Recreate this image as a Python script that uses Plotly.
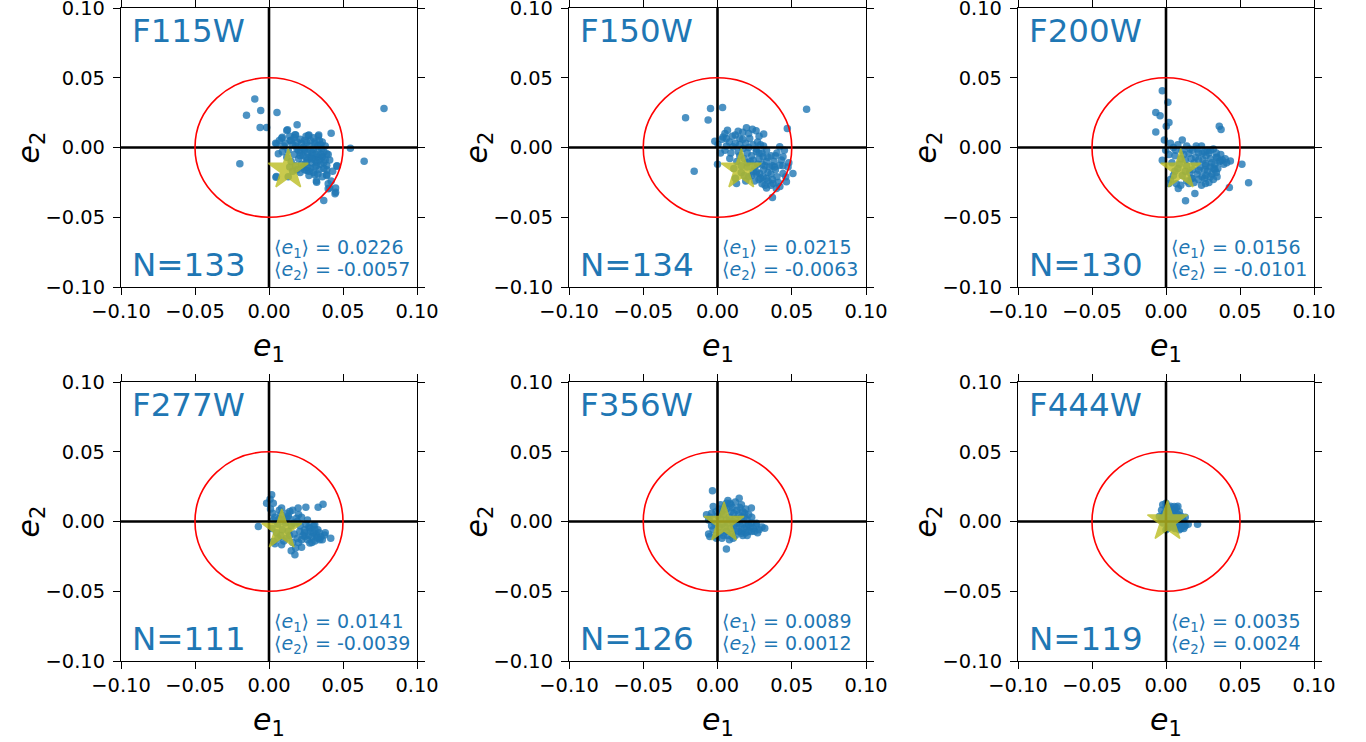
import plotly.graph_objects as go

FILTERS = ["F115W", "F150W", "F200W", "F277W", "F356W", "F444W"]
N_OBJ = [133, 134, 130, 111, 126, 119]
MEAN_E1 = ["0.0226", "0.0215", "0.0156", "0.0141", "0.0089", "0.0035"]
MEAN_E2 = ["-0.0057", "-0.0063", "-0.0101", "-0.0039", "0.0012", "0.0024"]
STAR_E1 = [0.013, 0.016, 0.010, 0.0086, 0.0044, 0.001]
STAR_E2 = [-0.016, -0.016, -0.016, -0.006, -0.001, 0.000]

pts_F115W = [
    (-0.0096, 0.0347), (-0.0152, 0.0232), (-0.0056, 0.0265), (0.0054, 0.0251), (-0.006, 0.0143),
    (-0.0016, 0.0143), (-0.0197, -0.0117), (0.0777, 0.028), (0.055, -0.0005), (0.0643, -0.0098),
    (0.042, 0.0103), (0.019, 0.0163), (0.0125, 0.0127), (0.037, -0.038), (0.045, -0.032),
    (0.045, -0.029), (0.041, -0.029), (0.046, -0.013), (0.032, -0.024), (0.0336, 0.009),
    (0.027, 0.009), (0.018, 0.009), (0.009, 0.0074), (0.0045, 0.003), (0.005, -0.0208),
    (0.039, -0.0196), (0.040, -0.005), (0.036, -0.0065), (0.012, 0.0122), (0.0086, 0.0067),
    (0.0176, 0.0091), (0.0266, 0.0086), (0.0333, 0.0081), (0.0052, 0.0026), (0.0142, 0.005),
    (0.0255, 0.0038), (0.0311, 0.0026), (0.0356, -0.0009), (0.039, -0.0045), (0.0063, -0.0045),
    (0.021, -0.0034), (0.0277, -0.007), (0.0322, -0.0105), (0.039, -0.0129), (0.0458, -0.0134),
    (0.0255, -0.0165), (0.031, -0.0196), (0.039, -0.020), (0.0322, -0.0249), (0.040, -0.026),
    (0.0446, -0.0332), (0.040, -0.0296), (0.0047, -0.0213), (0.010, 0.001), (0.013, -0.002),
    (0.016, 0.002), (0.019, -0.001), (0.022, 0.003), (0.024, -0.002), (0.027, 0.001),
    (0.029, -0.004), (0.031, 0.004), (0.033, -0.002), (0.035, 0.002), (0.037, -0.003),
    (0.023, -0.006), (0.026, -0.009), (0.029, -0.011), (0.033, -0.007), (0.035, -0.012),
    (0.038, -0.009), (0.020, -0.008), (0.017, -0.005), (0.015, -0.010), (0.018, -0.013),
    (0.022, -0.012), (0.024, -0.016), (0.028, -0.015), (0.030, -0.018), (0.034, -0.016),
    (0.036, -0.021), (0.027, -0.020), (0.021, -0.018), (0.012, -0.007), (0.009, -0.003),
    (0.007, 0.005), (0.014, 0.008), (0.021, 0.006), (0.028, 0.005), (0.034, 0.005),
    (0.038, 0.001), (0.041, -0.009), (0.043, -0.017), (0.025, 0.008), (0.030, -0.001),
    (0.032, -0.013), (0.026, -0.004), (0.019, 0.004), (0.011, 0.003), (0.016, -0.017),
    (0.013, -0.021), (0.037, -0.015), (0.042, -0.024), (0.024, -0.001), (0.028, -0.002),
    (0.032, -0.005), (0.034, -0.009), (0.030, -0.006), (0.025, -0.011), (0.031, -0.009),
    (0.036, -0.007), (0.020, -0.002), (0.023, 0.000), (0.015, 0.005), (0.018, 0.001),
    (0.021, -0.006), (0.025, -0.007), (0.027, -0.017), (0.031, -0.014), (0.033, -0.019),
    (0.035, -0.005), (0.037, -0.011), (0.029, -0.008), (0.023, -0.014), (0.019, -0.016),
    (0.014, -0.014), (0.017, 0.007), (0.024, 0.005), (0.030, 0.007), (0.036, 0.004),
    (0.039, -0.016), (0.033, 0.001), (0.026, -0.014),
]

pts_F150W = [
    (-0.0047, 0.028), (0.0034, 0.0287), (-0.0215, 0.0213), (-0.0063, 0.0198), (0.060, 0.0275),
    (0.0067, 0.0124), (0.0038, 0.0076), (0.0139, 0.0117), (0.0195, 0.0141), (0.0235, 0.0131),
    (0.0311, 0.0096), (0.047, 0.0136), (-0.0018, 0.0045), (0.0004, 0.0022), (0.006, 0.0065),
    (0.015, 0.0065), (0.0217, 0.0065), (0.0105, 0.0005), (0.0172, -0.0007), (0.0262, -0.0031),
    (0.0307, -0.0067), (0.0419, 0.0005), (0.0441, -0.0067), (0.0419, -0.0127), (0.0385, -0.0139),
    (0.0475, -0.0139), (0.0508, -0.0186), (0.0441, -0.0186), (0.0, -0.012), (-0.0157, -0.017),
    (0.0284, -0.0186), (0.0329, -0.0222), (0.0374, -0.0258), (0.0396, -0.0294), (0.037, -0.0358),
    (0.0128, -0.0258), (0.0083, -0.0079), (0.024, -0.0091), (0.0307, -0.021), (0.0262, -0.0174),
    (0.0464, -0.0246), (0.005, 0.010), (0.010, 0.008), (0.017, 0.011), (0.026, 0.012),
    (0.028, 0.008), (0.008, 0.004), (0.012, 0.003), (0.019, 0.003), (0.024, 0.002),
    (0.005, -0.002), (0.009, -0.004), (0.014, -0.003), (0.020, -0.004), (0.023, -0.006),
    (0.028, -0.008), (0.033, -0.010), (0.035, -0.014), (0.031, -0.016), (0.027, -0.012),
    (0.022, -0.010), (0.018, -0.008), (0.013, -0.010), (0.011, -0.015), (0.016, -0.018),
    (0.021, -0.021), (0.025, -0.024), (0.030, -0.026), (0.034, -0.024), (0.036, -0.019),
    (0.040, -0.021), (0.043, -0.009), (0.040, -0.004), (0.045, -0.002), (0.048, -0.011),
    (0.042, -0.028), (0.033, -0.029), (0.019, -0.024), (0.006, 0.001), (0.003, 0.006),
    (0.017, 0.006), (0.029, 0.002), (0.036, -0.006), (0.038, -0.010), (0.002, -0.004),
    (0.024, -0.017), (0.012, -0.022), (0.028, -0.004), (0.031, 0.001), (0.015, -0.006),
    (0.020, -0.014), (0.026, -0.019), (0.029, -0.022), (0.032, -0.013), (0.037, -0.023),
    (0.012, 0.009), (0.021, 0.010), (0.015, 0.002), (0.021, 0.000), (0.026, -0.001),
    (0.030, -0.004), (0.034, -0.007), (0.037, -0.013), (0.039, -0.016), (0.034, -0.018),
    (0.030, -0.012), (0.025, -0.014), (0.020, -0.011), (0.016, -0.013), (0.018, -0.020),
    (0.023, -0.020), (0.028, -0.023), (0.032, -0.027), (0.036, -0.027), (0.041, -0.025),
    (0.044, -0.013), (0.046, -0.021), (0.039, -0.006), (0.027, 0.004), (0.033, -0.002),
]

pts_F200W = [
    (-0.0025, 0.0406), (0.0013, 0.0325), (-0.0069, 0.0251), (-0.004, 0.0227), (0.002, 0.0179),
    (0.0002, 0.0153), (-0.0069, 0.0112), (0.036, 0.0153), (0.0372, 0.0129), (0.011, 0.0053),
    (-0.0011, 0.0053), (-0.0002, -0.0019), (0.0065, -0.0019), (0.0204, 0.001), (0.0155, -0.0043),
    (0.0244, -0.0043), (0.0278, -0.0019), (0.0345, -0.0072), (0.0367, -0.0096), (0.0435, -0.0096),
    (0.0513, -0.012), (0.0267, -0.0115), (0.0323, -0.0151), (0.0345, -0.021), (0.0244, -0.021),
    (0.0267, -0.0258), (0.0222, -0.0163), (0.0177, -0.0222), (0.0195, -0.033), (0.0132, -0.0382),
    (0.0083, -0.0294), (0.002, -0.0258), (0.0428, -0.0287), (0.0558, -0.0253), (-0.0025, -0.0091),
    (0.0155, -0.0258), (0.003, 0.003), (0.008, 0.002), (0.014, 0.001), (0.018, -0.002),
    (0.024, 0.001), (0.029, -0.004), (0.032, -0.001), (0.002, -0.005), (0.006, -0.006),
    (0.012, -0.005), (0.020, -0.007), (0.025, -0.009), (0.030, -0.008), (0.033, -0.012),
    (0.037, -0.005), (0.040, -0.008), (0.004, -0.011), (0.009, -0.012), (0.014, -0.013),
    (0.019, -0.011), (0.023, -0.014), (0.028, -0.017), (0.031, -0.019), (0.035, -0.015),
    (0.039, -0.012), (0.026, -0.022), (0.021, -0.019), (0.016, -0.018), (0.011, -0.020),
    (0.006, -0.017), (0.003, -0.023), (0.029, -0.025), (0.032, -0.023), (0.024, -0.027),
    (0.036, -0.010), (0.010, -0.008), (0.017, -0.022), (0.007, -0.026), (0.022, -0.004),
    (0.027, -0.013), (0.027, -0.006), (0.031, -0.011), (0.034, -0.004), (0.018, -0.016),
    (0.005, 0.000), (0.011, -0.002), (0.016, -0.001), (0.021, -0.001), (0.026, -0.003),
    (0.030, -0.002), (0.034, -0.007), (0.038, -0.009), (0.041, -0.011), (0.034, -0.018),
    (0.030, -0.014), (0.026, -0.016), (0.022, -0.009), (0.017, -0.008), (0.013, -0.009),
    (0.008, -0.015), (0.013, -0.017), (0.019, -0.025), (0.022, -0.023), (0.027, -0.020),
    (0.030, -0.021), (0.014, -0.024), (0.010, -0.027), (0.005, -0.020), (0.033, -0.016),
]

pts_F277W = [
    (0.0018, 0.0191), (0.0007, 0.016), (-0.0016, 0.0131), (0.0029, 0.0131), (0.0085, 0.0096),
    (0.0141, 0.0072), (0.0197, 0.0096), (0.0249, 0.0103), (0.0332, 0.0103), (0.0365, 0.0124),
    (0.0025, 0.006), (0.0119, 0.0024), (0.0186, 0.0024), (-0.0072, -0.0036), (0.0208, -0.0072),
    (0.0276, -0.0048), (0.0309, -0.0024), (0.0242, -0.0108), (0.032, -0.0096), (0.0376, -0.0096),
    (0.0417, -0.012), (0.0276, -0.0155), (0.022, -0.0184), (0.0175, -0.0239), (0.0085, -0.0167),
    (0.0029, -0.0143), (0.0343, -0.0131), (0.004, 0.003), (0.008, 0.005), (0.013, 0.004),
    (0.016, 0.008), (0.006, -0.002), (0.011, -0.001), (0.015, -0.003), (0.019, 0.000),
    (0.022, 0.003), (0.025, -0.002), (0.028, -0.007), (0.030, -0.003), (0.033, -0.006),
    (0.035, -0.011), (0.029, -0.011), (0.026, -0.013), (0.023, -0.010), (0.019, -0.012),
    (0.016, -0.015), (0.012, -0.012), (0.008, -0.010), (0.005, -0.008), (0.002, -0.005),
    (0.018, -0.019), (0.031, -0.014), (0.038, -0.008), (0.024, -0.006), (0.013, -0.007),
    (0.003, 0.001), (0.007, 0.002), (0.010, 0.001), (0.014, 0.002), (0.017, -0.001),
    (0.021, -0.003), (0.024, -0.008), (0.027, -0.010), (0.030, -0.008), (0.032, -0.011),
    (0.034, -0.008), (0.036, -0.013), (0.020, -0.015), (0.022, -0.013), (0.014, -0.010),
    (0.010, -0.014), (0.006, -0.012), (0.004, -0.016), (0.009, -0.006), (0.017, -0.009),
    (0.027, -0.004), (0.031, -0.006), (0.007, 0.008), (0.012, 0.006), (0.001, 0.009),
    (0.020, 0.005), (0.026, 0.001), (0.029, -0.015), (0.015, -0.021), (0.033, -0.012),
]

pts_F356W = [
    (-0.0034, 0.022), (0.0146, 0.0167), (0.0083, 0.0131), (0.0161, 0.012), (0.0228, 0.0096),
    (-0.0029, 0.0108), (-0.0074, 0.0048), (0.0027, 0.0072), (0.0184, 0.006), (0.0262, -0.0012),
    (0.0318, -0.0048), (0.0228, -0.0072), (0.0161, -0.0084), (-0.0052, -0.0108), (-0.0007, -0.012),
    (0.006, -0.0198), (0.0105, -0.012), (0.0195, -0.0036), (0.001, 0.009), (0.005, 0.011),
    (0.010, 0.010), (0.013, 0.008), (0.017, 0.007), (0.021, 0.005), (-0.004, 0.006),
    (0.000, 0.004), (0.004, 0.005), (0.008, 0.003), (0.012, 0.002), (0.016, 0.003),
    (0.020, 0.001), (0.023, -0.001), (-0.006, 0.001), (-0.002, -0.001), (0.003, -0.002),
    (0.007, -0.001), (0.011, -0.003), (0.015, -0.002), (0.018, -0.005), (0.022, -0.004),
    (0.026, -0.003), (0.028, -0.006), (-0.003, -0.006), (0.002, -0.008), (0.006, -0.007),
    (0.010, -0.009), (0.014, -0.007), (0.019, -0.008), (0.025, -0.007), (0.003, -0.012),
    (0.008, -0.013), (0.012, 0.014), (0.007, 0.015), (-0.006, -0.009), (0.002, 0.012),
    (0.006, 0.013), (0.009, 0.012), (0.015, 0.010), (0.019, 0.009), (-0.001, 0.007),
    (0.006, 0.009), (0.011, 0.006), (0.014, 0.005), (0.018, 0.003), (0.002, 0.002),
    (0.006, 0.001), (0.010, 0.000), (0.013, -0.001), (0.017, -0.002), (0.021, -0.002),
    (0.024, -0.005), (0.027, -0.008), (0.030, -0.004), (0.001, -0.004), (0.005, -0.004),
    (0.009, -0.005), (0.013, -0.005), (0.016, -0.007), (0.021, -0.007), (-0.001, -0.010),
    (0.004, -0.010), (0.007, -0.010), (0.012, -0.010), (0.017, -0.010), (-0.004, -0.003),
    (0.020, -0.010), (0.023, 0.003), (0.009, 0.007), (-0.005, 0.003),
]

pts_F444W = [
    (-0.0022, 0.012), (0.0056, 0.0108), (0.0022, 0.0072), (0.0213, -0.0019), (0.0123, -0.0036),
    (0.009, 0.0), (-0.0045, 0.0036), (0.0, -0.006), (0.002, 0.010), (0.006, 0.008),
    (-0.001, 0.006), (0.004, 0.004), (0.008, 0.005), (0.011, 0.002), (0.001, 0.001),
    (0.005, -0.001), (0.009, -0.002), (-0.003, 0.002), (0.003, -0.004), (0.007, -0.004),
    (0.012, 0.000), (0.000, 0.013), (0.010, -0.005), (0.001, 0.008), (0.003, 0.011),
    (0.005, 0.006), (0.007, 0.010), (0.009, 0.007), (0.010, 0.004), (0.013, 0.003),
    (0.002, 0.003), (0.006, 0.002), (-0.002, 0.004), (0.004, 0.000), (0.008, 0.001),
    (0.011, -0.001), (0.013, -0.003), (0.002, -0.002), (0.006, -0.005), (0.009, -0.006),
    (0.012, -0.005), (-0.002, -0.001), (0.001, -0.005), (0.004, 0.008), (0.008, 0.011),
    (0.015, -0.002), (0.000, 0.010), (-0.003, 0.008),
]

POINTS = [pts_F115W, pts_F150W, pts_F200W, pts_F277W, pts_F356W, pts_F444W]

TICK_VALS = [-0.1, -0.05, 0.0, 0.05, 0.1]
TICK_TEXT = ["\u22120.10", "\u22120.05", "0.00", "0.05", "0.10"]
AX_LIM = [-0.1, 0.1]
CIRCLE_R = 0.05

W, H = 1366, 742
COL_PX = [(121, 417), (569, 866), (1018, 1314)]
ROW_PX = [(8, 287), (382, 661)]

BLUE = "#1f77b4"
FONT = "DejaVu Sans"


def px_x(p):
    return p / W


def px_y(p):
    return 1 - p / H


fig = go.Figure()
annotations = []
shapes = []
layout_axes = {}

for i in range(6):
    r, c = divmod(i, 3)
    idx = "" if i == 0 else str(i + 1)
    xa, ya = "x" + idx, "y" + idx
    x0, x1 = COL_PX[c]
    y0, y1 = ROW_PX[r]
    xdom = [px_x(x0), px_x(x1)]
    ydom = [px_y(y1), px_y(y0)]
    common = dict(
        range=AX_LIM, tickvals=TICK_VALS, ticktext=TICK_TEXT, automargin=False,
        ticklabeloverflow="allow",
        showgrid=False, zeroline=False, showline=True, linecolor="black",
        linewidth=1.3, mirror="ticks", ticks="outside", ticklen=7, tickwidth=1.3,
        tickcolor="black", tickfont=dict(family=FONT, size=19.4, color="black"),
        fixedrange=True,
    )
    layout_axes["xaxis" + idx] = dict(domain=xdom, anchor=ya, ticklabelstandoff=0, **common)
    layout_axes["yaxis" + idx] = dict(domain=ydom, anchor=xa, ticklabelstandoff=4, **common)

    e1 = [p[0] for p in POINTS[i]]
    e2 = [p[1] for p in POINTS[i]]
    fig.add_trace(go.Scatter(
        x=e1, y=e2, mode="markers", xaxis=xa, yaxis=ya,
        marker=dict(color=BLUE, size=7.5, opacity=0.8, line=dict(width=0)),
        hoverinfo="skip",
    ))
    # zero lines (drawn above points, below the star)
    fig.add_trace(go.Scatter(
        x=AX_LIM, y=[0, 0], mode="lines", xaxis=xa, yaxis=ya,
        line=dict(color="black", width=2.6), hoverinfo="skip",
    ))
    fig.add_trace(go.Scatter(
        x=[0, 0], y=AX_LIM, mode="lines", xaxis=xa, yaxis=ya,
        line=dict(color="black", width=2.6), hoverinfo="skip",
    ))
    fig.add_trace(go.Scatter(
        x=[STAR_E1[i]], y=[STAR_E2[i]], mode="markers", xaxis=xa, yaxis=ya,
        marker=dict(symbol="star", size=30, color="#bcbd22", opacity=0.8,
                    line=dict(color="#bcbd22", width=1.5)),
        hoverinfo="skip",
    ))
    shapes.append(dict(
        type="circle", xref=xa, yref=ya, x0=-CIRCLE_R, y0=-CIRCLE_R, x1=CIRCLE_R, y1=CIRCLE_R,
        line=dict(color="red", width=1.6), layer="above",
    ))

    # texts
    annotations.append(dict(
        text=FILTERS[i], xref="paper", yref="paper", x=px_x(x0 + 9), y=px_y(y0 + 23),
        xanchor="left", yanchor="middle", showarrow=False,
        font=dict(family=FONT, size=32.5, color=BLUE),
    ))
    annotations.append(dict(
        text="N=%d" % N_OBJ[i], xref="paper", yref="paper", x=px_x(x0 + 9), y=px_y(y0 + 257),
        xanchor="left", yanchor="middle", showarrow=False,
        font=dict(family=FONT, size=32.5, color=BLUE),
    ))
    annotations.append(dict(
        text="\u27e8<i>e</i><sub>1</sub>\u27e9 = " + MEAN_E1[i], xref="paper", yref="paper",
        x=px_x(x0 + 151), y=px_y(y0 + 240),
        xanchor="left", yanchor="middle", showarrow=False,
        font=dict(family=FONT, size=19, color=BLUE),
    ))
    annotations.append(dict(
        text="\u27e8<i>e</i><sub>2</sub>\u27e9 = " + MEAN_E2[i], xref="paper", yref="paper",
        x=px_x(x0 + 151), y=px_y(y0 + 262),
        xanchor="left", yanchor="middle", showarrow=False,
        font=dict(family=FONT, size=19, color=BLUE),
    ))
    # axis titles
    annotations.append(dict(
        text="<i>e</i><sub>1</sub>", xref="paper", yref="paper",
        x=px_x((x0 + x1) / 2), y=px_y(y1 + 60),
        xanchor="center", yanchor="middle", showarrow=False,
        font=dict(family=FONT, size=30, color="black"),
    ))
    annotations.append(dict(
        text="<i>e</i><sub>2</sub>", xref="paper", yref="paper",
        x=px_x(x0 - 91), y=px_y((y0 + y1) / 2), textangle=-90,
        xanchor="center", yanchor="middle", showarrow=False,
        font=dict(family=FONT, size=30, color="black"),
    ))

fig.update_layout(
    width=W, height=H, margin=dict(l=0, r=0, t=0, b=0, autoexpand=False),
    paper_bgcolor="white", plot_bgcolor="white", showlegend=False,
    annotations=annotations, shapes=shapes, **layout_axes,
)

# remove the default page margin so the 1366x742 figure fills the window exactly
fig.write_html(
    "out.html",
    config={"displayModeBar": False},
    post_script="document.body.style.margin='0px';",
)
